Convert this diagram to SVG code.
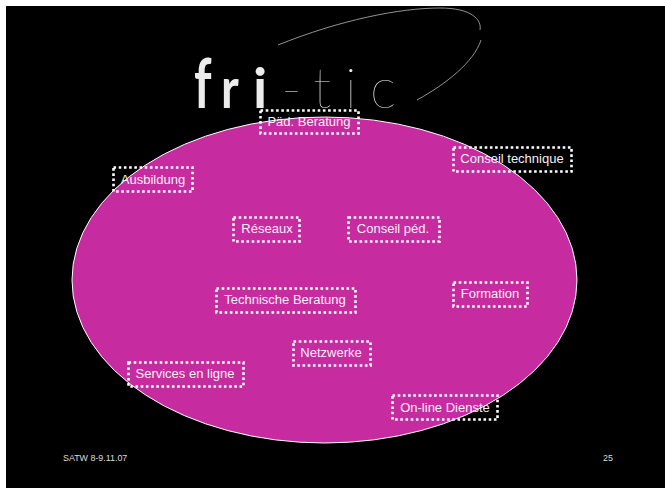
<svg xmlns="http://www.w3.org/2000/svg" width="665" height="488" viewBox="0 0 665 488">
<style>
.box{fill:none;stroke:#fff;stroke-width:2.6;stroke-dasharray:2.6 2.6}
.lbl{font-family:"Liberation Sans",Arial,sans-serif;font-size:13px;fill:#f6f0f6;text-anchor:middle}
.foot{font-family:"Liberation Sans",Arial,sans-serif;font-size:8.9px;fill:#dcdcdc}
.logo{font-family:"Lato","Liberation Sans",sans-serif;fill:#ececec}
</style>
<rect width="665" height="488" fill="#fff"/>
<rect x="6" y="6" width="659" height="482" fill="#000"/>
<g id="swoosh" fill="none" stroke="#b8b8b8" stroke-width="0.8">
<path d="M278 45C340 20 400 8 440 8C472 8 482 20 480 30"/>
<path d="M481 40C474 62 446 84 417 100"/>
</g>
<g id="logo">
<text class="logo" transform="translate(194 108) scale(0.72 1)" font-size="68" font-weight="700">f</text>
<text class="logo" transform="translate(221 108) scale(0.85 1)" font-size="56" font-weight="700">r</text>
<text class="logo" x="253" y="108" font-size="56" font-weight="700">i</text>
<text class="logo" x="281" y="108" font-size="56" font-weight="100">-</text>
<text class="logo" x="313" y="108" font-size="56" font-weight="100">t</text>
<text class="logo" x="345" y="108" font-size="56" font-weight="100">i</text>
<text class="logo" x="370" y="108" font-size="56" font-weight="100">c</text>
</g>
<ellipse id="main-ellipse" cx="324.500" cy="280" rx="252.500" ry="163" fill="#c72ba0" stroke="#fff" stroke-width="1"/>
<g id="connectors"/>
<g id="n1"><rect class="box" x="260.500" y="110.500" width="98" height="23"/><text class="lbl" x="309" y="126">Päd. Beratung</text></g>
<g id="n2"><rect class="box" x="453.500" y="147.500" width="118" height="24"/><text class="lbl" x="512" y="163">Conseil technique</text></g>
<g id="n3"><rect class="box" x="113.500" y="167.500" width="79" height="24"/><text class="lbl" x="153" y="184">Ausbildung</text></g>
<g id="n4"><rect class="box" x="233.500" y="217.500" width="66" height="24"/><text class="lbl" x="267" y="233">Réseaux</text></g>
<g id="n5"><rect class="box" x="348.500" y="217.500" width="91" height="24"/><text class="lbl" x="393" y="233">Conseil péd.</text></g>
<g id="n6"><rect class="box" x="216.500" y="288.500" width="139" height="24"/><text class="lbl" x="285" y="304">Technische Beratung</text></g>
<g id="n7"><rect class="box" x="453.500" y="282.500" width="74" height="24"/><text class="lbl" x="490" y="298">Formation</text></g>
<g id="n8"><rect class="box" x="293.500" y="341.500" width="77" height="24"/><text class="lbl" x="331" y="357">Netzwerke</text></g>
<g id="n9"><rect class="box" x="128.500" y="362.500" width="115" height="24"/><text class="lbl" x="185" y="378">Services en ligne</text></g>
<g id="n10"><rect class="box" x="392.500" y="395.500" width="105" height="24"/><text class="lbl" x="445" y="412">On-line Dienste</text></g>
<text class="foot" x="63" y="461">SATW 8-9.11.07</text>
<text class="foot" x="603" y="461">25</text>
</svg>
